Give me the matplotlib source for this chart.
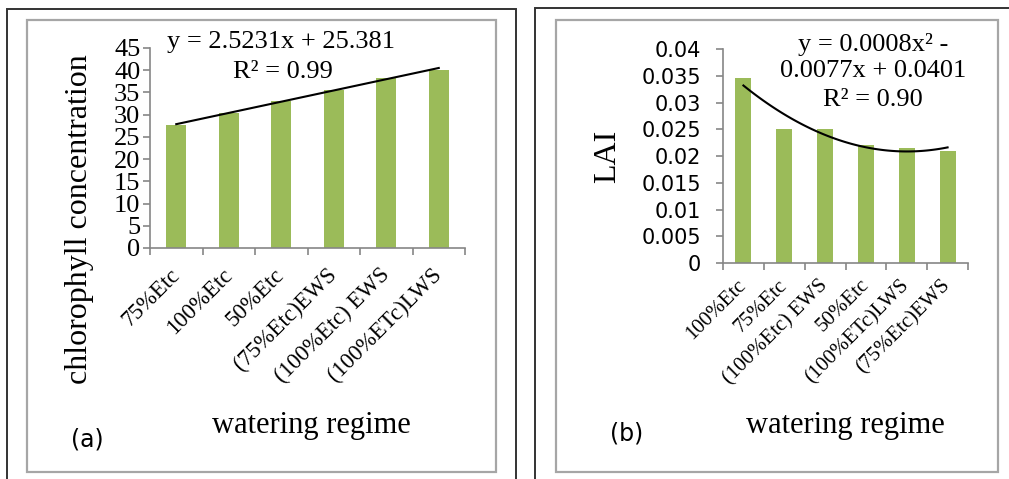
import numpy as np
import matplotlib.pyplot as plt
from matplotlib.patches import Rectangle

W, H = 1009, 479

chl_regimes = ['75%Etc', '100%Etc', '50%Etc', '(75%Etc)EWS', '(100%Etc) EWS', '(100%ETc)LWS']
chl_values = [27.7, 30.3, 33.1, 35.6, 38.3, 40.1]
chl_ticks = list(range(0, 46, 5))
chl_fit_text = ['y = 2.5231x + 25.381', 'R² = 0.99']

lai_regimes = ['100%Etc', '75%Etc', '(100%Etc) EWS', '50%Etc', '(100%ETc)LWS', '(75%Etc)EWS']
lai_values = [0.0345, 0.025, 0.025, 0.022, 0.0215, 0.021]
lai_ticks = [0, 0.005, 0.01, 0.015, 0.02, 0.025, 0.03, 0.035, 0.04]
lai_tick_labels = ['0', '0.005', '0.01', '0.015', '0.02', '0.025', '0.03', '0.035', '0.04']
lai_fit_text = ['y = 0.0008x² -', '0.0077x + 0.0401', 'R² = 0.90']

SERIF = 'Liberation Serif'
SANS = 'DejaVu Sans'
GREEN = '#9BBB59'
GRID = '#868686'

fig = plt.figure(figsize=(W / 100, H / 100), dpi=100)


def fx(x):
    return x / W


def fy(y):
    return 1 - y / H


def box(x0, y0, x1, y1, color, lw):
    fig.add_artist(Rectangle((fx(x0), fy(y1)), (x1 - x0) / W, (y1 - y0) / H,
                             transform=fig.transFigure, fill=False, ec=color, lw=lw))


# frames round the two panels
box(7, 9, 516, 520, '#333333', 1.4)
box(535, 8, 1040, 520, '#333333', 1.4)
box(27, 20, 496, 472, '#a6a6a6', 1.6)
box(556, 20, 998, 472, '#a6a6a6', 1.6)


def panel(rect, labels, values, deg, ticks, tick_labels, tick_font, xfs, xpad, ypad):
    ax = fig.add_axes(rect)
    x = np.arange(1, len(values) + 1)
    ax.bar(x, values, width=0.39, color=GREEN, zorder=2)
    coef = np.polyfit(x, values, deg)
    xs = np.linspace(1, len(values), 100)
    ax.plot(xs, np.polyval(coef, xs), color='black', lw=1.5, zorder=3)
    ax.set_xlim(0.5, len(values) + 0.5)
    ax.set_ylim(ticks[0], ticks[-1])
    for s in ['top', 'right']:
        ax.spines[s].set_visible(False)
    for s in ['left', 'bottom']:
        ax.spines[s].set_color(GRID)
        ax.spines[s].set_linewidth(1.2)
    ax.set_yticks(ticks)
    ax.set_yticklabels(tick_labels, **tick_font)
    ax.tick_params(axis='y', length=5, width=1.2, color=GRID, pad=ypad)
    ax.set_xticks(np.arange(0.5, len(values) + 1), minor=True)
    ax.set_xticks(x)
    ax.set_xticklabels(labels, family=SERIF, fontsize=xfs, rotation=45,
                       ha='right', va='center', rotation_mode='anchor')
    ax.tick_params(axis='x', which='major', length=0, pad=xpad)
    ax.tick_params(axis='x', which='minor', length=5, width=1.2, color=GRID)
    ax.patch.set_alpha(0)
    return ax


panel([fx(150), fy(248), 315 / W, 200 / H], chl_regimes, chl_values, 1,
      chl_ticks, [str(t) for t in chl_ticks], dict(family=SERIF, fontsize=19), 16.5, 17, 2)
panel([fx(723), fy(263), 245 / W, 214 / H], lai_regimes, lai_values, 2,
      lai_ticks, lai_tick_labels, dict(family=SANS, fontsize=15), 15, 14, 11)

# equations
fig.text(fx(281), fy(42), chl_fit_text[0], family=SERIF, fontsize=19, ha='center', va='center')
fig.text(fx(283), fy(72), chl_fit_text[1], family=SERIF, fontsize=19, ha='center', va='center')
for line, yy in zip(lai_fit_text, [44, 71, 100]):
    fig.text(fx(873), fy(yy), line, family=SERIF, fontsize=19, ha='center', va='center')

# axis titles
fig.text(fx(80), fy(219), 'chlorophyll concentration', family=SERIF, fontsize=23,
         rotation=90, ha='center', va='center')
fig.text(fx(608), fy(156), 'LAI', family=SERIF, fontsize=23, rotation=90, ha='center', va='center')
fig.text(fx(311), fy(425), 'watering regime', family=SERIF, fontsize=22, ha='center', va='center')
fig.text(fx(845), fy(425), 'watering regime', family=SERIF, fontsize=22, ha='center', va='center')

fig.text(fx(87), fy(440), '(a)', family=SANS, fontsize=17, ha='center', va='center')
fig.text(fx(627), fy(433), '(b)', family=SANS, fontsize=17, ha='center', va='center')

fig.savefig('out.png', dpi=100)
